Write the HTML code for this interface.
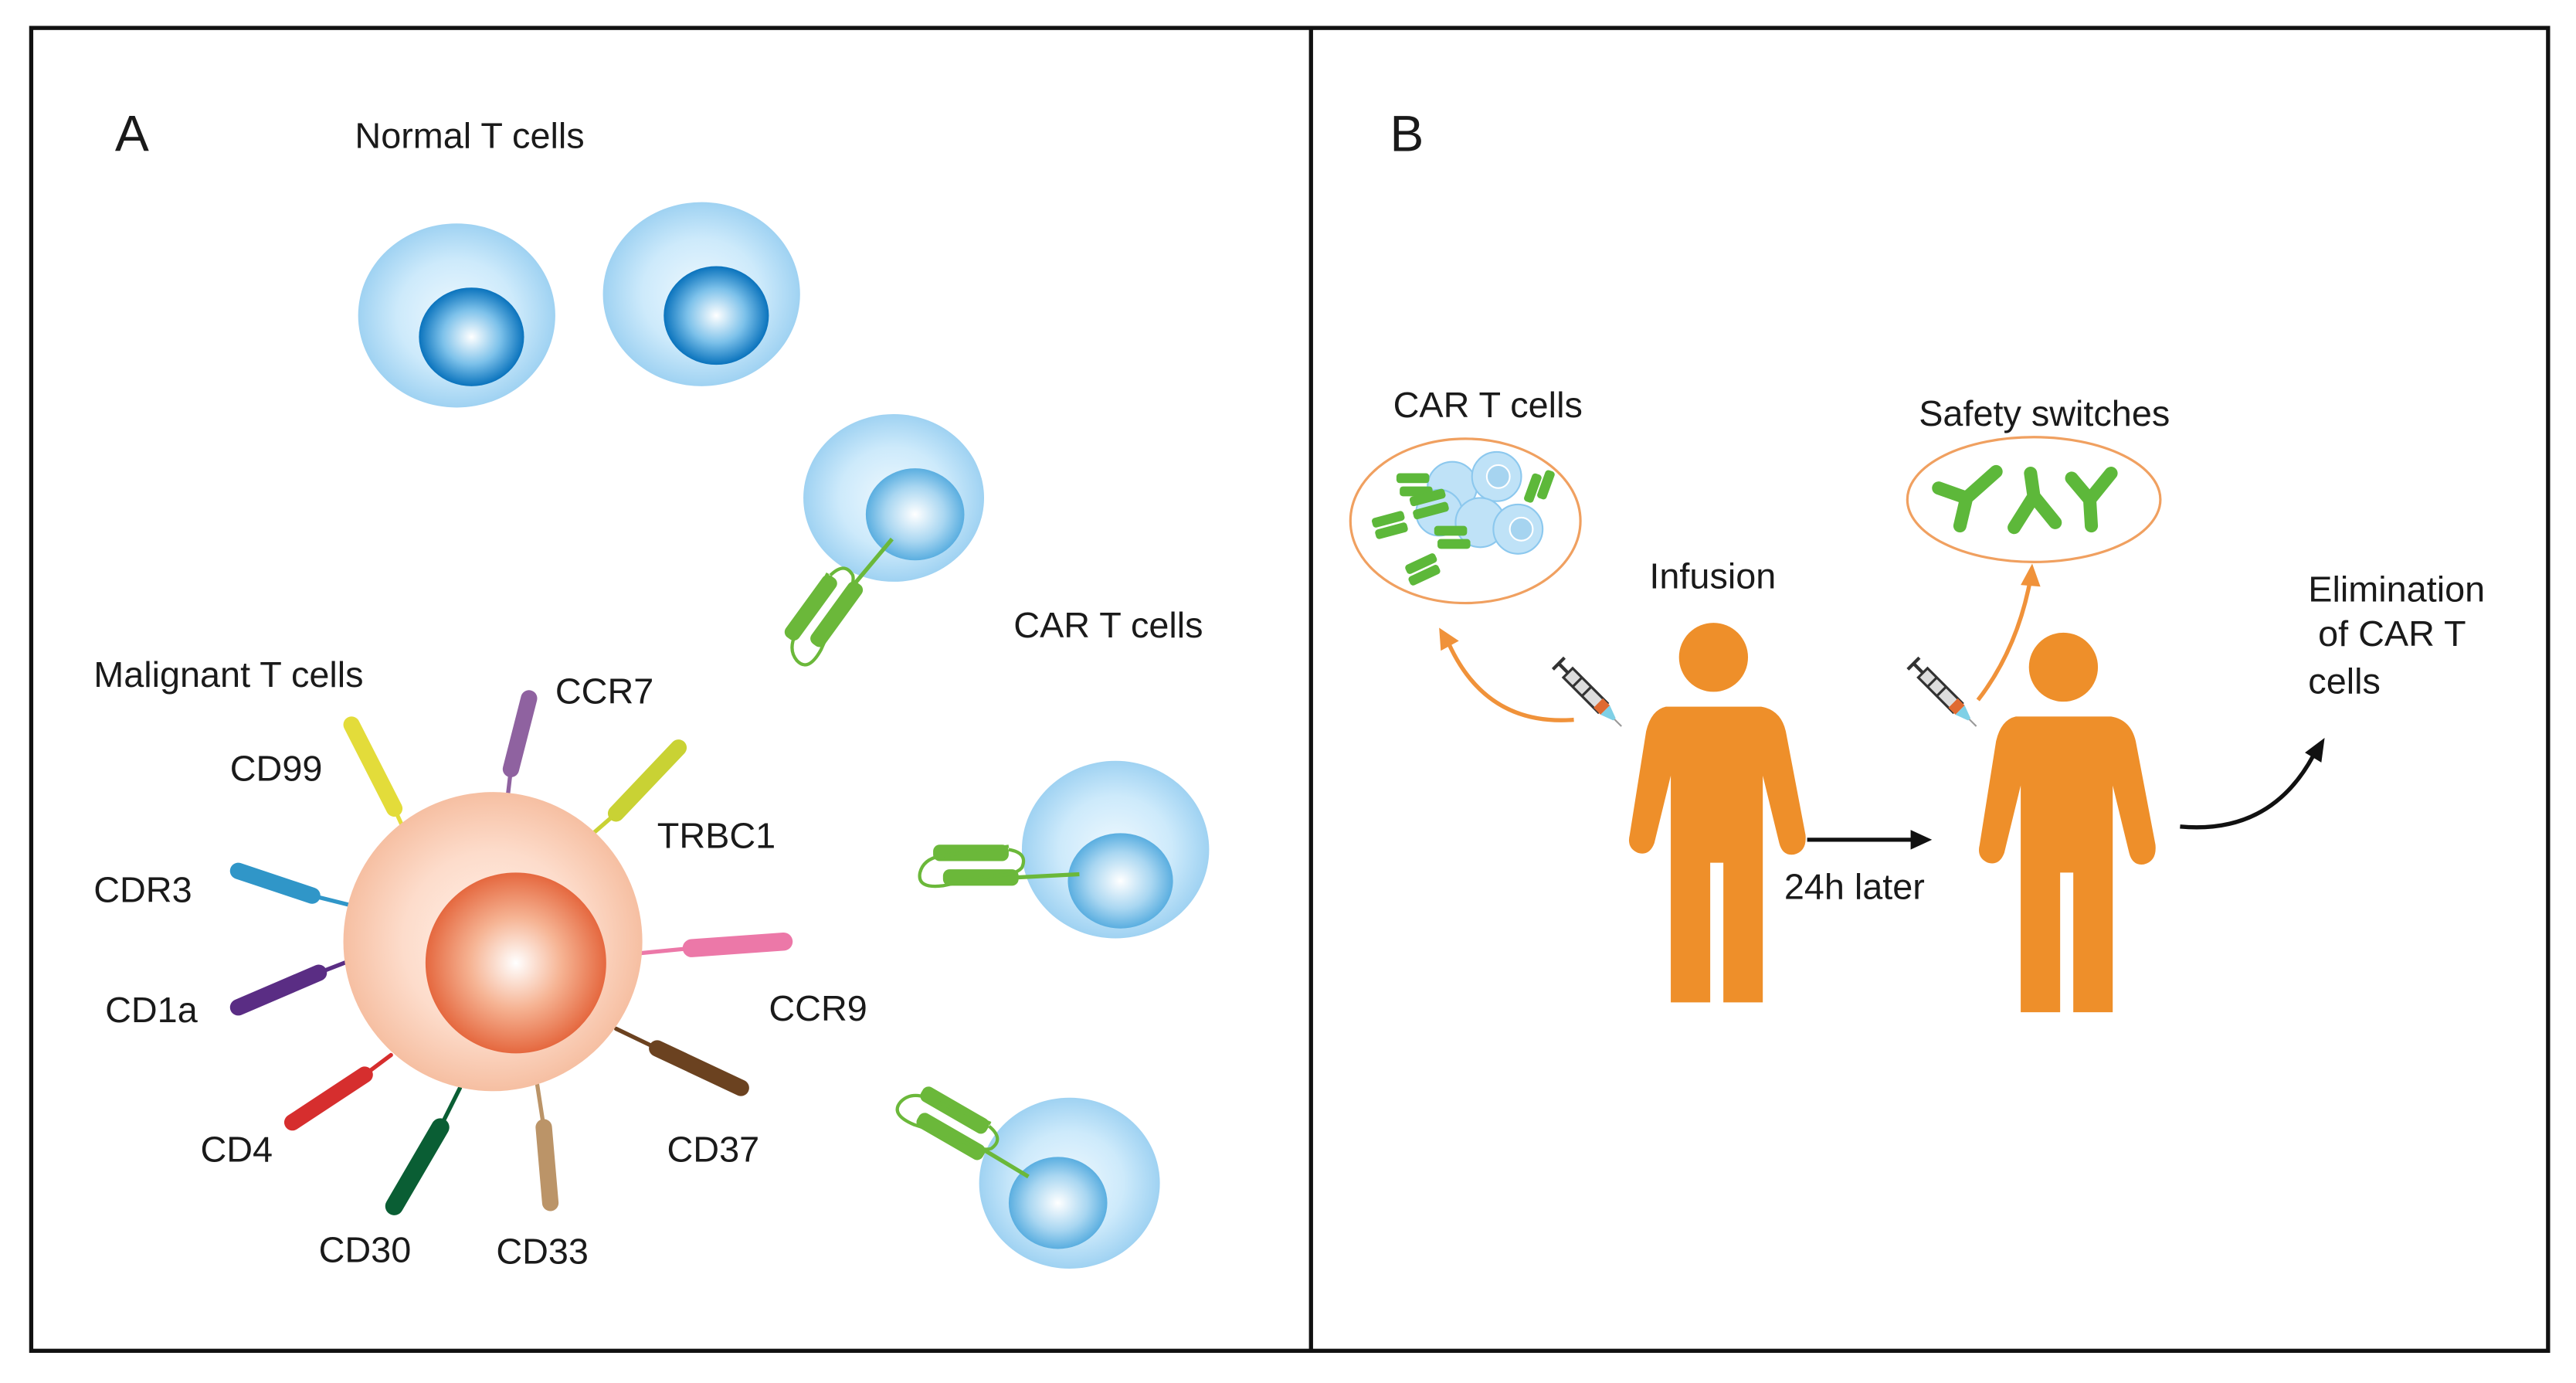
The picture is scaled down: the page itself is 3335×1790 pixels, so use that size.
<!DOCTYPE html>
<html><head><meta charset="utf-8"><style>
html,body{margin:0;padding:0;background:#fff;}
svg{display:block;}
text{font-family:"Liberation Sans",Arial,sans-serif;fill:#1a1a1a;}
</style></head><body>
<svg width="3335" height="1790" viewBox="0 0 1568 841.6" preserveAspectRatio="none" xmlns="http://www.w3.org/2000/svg">
<defs>
<radialGradient id="cell" cx="50%" cy="50%" r="50%"><stop offset="0" stop-color="#eef8fe"/><stop offset="0.6" stop-color="#cdeafb"/><stop offset="1" stop-color="#9fd2f2"/></radialGradient>
<radialGradient id="nuc" cx="50%" cy="50%" r="50%"><stop offset="0" stop-color="#ffffff"/><stop offset="0.55" stop-color="#7cc1ea"/><stop offset="1" stop-color="#0a73bd"/></radialGradient>
<radialGradient id="nuc2" cx="50%" cy="50%" r="50%"><stop offset="0" stop-color="#ffffff"/><stop offset="0.6" stop-color="#a8d6f1"/><stop offset="1" stop-color="#5aaee0"/></radialGradient>
<radialGradient id="mal" cx="50%" cy="50%" r="50%"><stop offset="0" stop-color="#fff2ea"/><stop offset="0.6" stop-color="#fddccb"/><stop offset="1" stop-color="#f6bfa2"/></radialGradient>
<radialGradient id="malN" cx="50%" cy="50%" r="50%"><stop offset="0" stop-color="#ffffff"/><stop offset="0.5" stop-color="#f6b494"/><stop offset="1" stop-color="#e5683f"/></radialGradient>
<g id="car">
<rect x="6" y="-13" width="46" height="10" rx="4" fill="#6bb83a"/>
<rect x="12" y="2" width="46" height="10" rx="4" fill="#6bb83a"/>
<path d="M52,-10 Q64,-8 60,1 Q56,6 40,6 L12,12 Q-4,14 -2,4 Q0,-4 10,-6 L52,-12" fill="none" stroke="#6bb83a" stroke-width="2"/>
</g>
<g id="person">
<circle cx="0" cy="0" r="21" fill="#ee8f2a"/>
<path d="M-29,30 L29,30 Q41,32 44,45 L56,108 Q57,118 49,120 Q42,121 40,113 L30,72 L30,210 L6,210 L6,125 L-2,125 L-2,210 L-26,210 L-26,72 L-36,113 Q-39,121 -46,119 Q-53,116 -51,108 L-41,45 Q-38,32 -29,30 Z" fill="#ee8f2a"/>
</g>
<g id="syr">
<rect x="-4" y="-22" width="8" height="30" fill="#ddd" stroke="#333" stroke-width="1.5"/>
<line x1="-4" y1="-14" x2="4" y2="-14" stroke="#333" stroke-width="1.5"/>
<line x1="-4" y1="-6" x2="4" y2="-6" stroke="#333" stroke-width="1.5"/>
<rect x="-4" y="4" width="8" height="6" fill="#e06a30"/>
<line x1="0" y1="-22" x2="0" y2="-30" stroke="#333" stroke-width="2"/>
<line x1="-5" y1="-30" x2="5" y2="-30" stroke="#333" stroke-width="2"/>
<path d="M-4,10 L4,10 L1,18 L-1,18 Z" fill="#7fd0e6"/>
<line x1="0" y1="18" x2="0" y2="24" stroke="#999" stroke-width="1"/>
</g>
</defs>

<rect x="19" y="17" width="1532" height="805" fill="none" stroke="#111" stroke-width="2.5"/>
<line x1="798" y1="17" x2="798" y2="822" stroke="#111" stroke-width="2.5"/>

<text x="70" y="92" font-size="31">A</text>
<text x="216" y="90" font-size="22">Normal T cells</text>
<ellipse cx="278" cy="192" rx="60" ry="56" fill="url(#cell)"/>
<ellipse cx="287" cy="205" rx="32" ry="30" fill="url(#nuc)"/>
<ellipse cx="427" cy="179" rx="60" ry="56" fill="url(#cell)"/>
<ellipse cx="436" cy="192" rx="32" ry="30" fill="url(#nuc)"/>

<ellipse cx="544" cy="303" rx="55" ry="51" fill="url(#cell)"/>
<ellipse cx="557" cy="313" rx="30" ry="28" fill="url(#nuc2)"/>
<line x1="512" y1="365" x2="543" y2="328" stroke="#6bb83a" stroke-width="2.5"/>
<use href="#car" transform="translate(483,398) rotate(-54)"/>
<text x="617" y="388" font-size="22">CAR T cells</text>

<ellipse cx="679" cy="517" rx="57" ry="54" fill="url(#cell)"/>
<ellipse cx="682" cy="536" rx="32" ry="29" fill="url(#nuc2)"/>
<line x1="618" y1="534" x2="657" y2="532" stroke="#6bb83a" stroke-width="2.5"/>
<use href="#car" transform="translate(562,527)"/>

<ellipse cx="651" cy="720" rx="55" ry="52" fill="url(#cell)"/>
<ellipse cx="644" cy="732" rx="30" ry="28" fill="url(#nuc2)"/>
<line x1="596" y1="698" x2="626" y2="716" stroke="#6bb83a" stroke-width="2.5"/>
<use href="#car" transform="translate(552,668) rotate(30)"/>

<g stroke-linecap="round">
<line x1="240" y1="492" x2="246" y2="505" stroke="#e3dc3a" stroke-width="2.5"/><line x1="214" y1="441" x2="240" y2="492" stroke="#e3dc3a" stroke-width="10"/>
<line x1="311" y1="468" x2="309" y2="485" stroke="#8f62a0" stroke-width="2.5"/><line x1="322" y1="425" x2="311" y2="468" stroke="#8f62a0" stroke-width="10"/>
<line x1="375" y1="495" x2="360" y2="508" stroke="#c9d234" stroke-width="2.5"/><line x1="413" y1="455" x2="375" y2="495" stroke="#c9d234" stroke-width="10"/>
<line x1="190" y1="545" x2="214" y2="551" stroke="#3096c8" stroke-width="2.5"/><line x1="145" y1="530" x2="190" y2="545" stroke="#3096c8" stroke-width="10"/>
<line x1="194" y1="592" x2="212" y2="585" stroke="#5a2d84" stroke-width="2.5"/><line x1="145" y1="613" x2="194" y2="592" stroke="#5a2d84" stroke-width="10"/>
<line x1="222" y1="654" x2="238" y2="642" stroke="#d62e2e" stroke-width="2.5"/><line x1="178" y1="683" x2="222" y2="654" stroke="#d62e2e" stroke-width="10"/>
<line x1="268" y1="686" x2="280" y2="662" stroke="#0a5e34" stroke-width="2.5"/><line x1="240" y1="734" x2="268" y2="686" stroke="#0a5e34" stroke-width="11"/>
<line x1="331" y1="686" x2="327" y2="660" stroke="#bb9468" stroke-width="2.5"/><line x1="335" y1="732" x2="331" y2="686" stroke="#bb9468" stroke-width="10"/>
<line x1="400" y1="638" x2="375" y2="626" stroke="#6b4220" stroke-width="2.5"/><line x1="451" y1="662" x2="400" y2="638" stroke="#6b4220" stroke-width="10"/>
<line x1="421" y1="577" x2="390" y2="580" stroke="#ec78a8" stroke-width="2.5"/><line x1="477" y1="573" x2="421" y2="577" stroke="#ec78a8" stroke-width="11"/>
</g>
<circle cx="300" cy="573" r="91" fill="url(#mal)"/>
<circle cx="314" cy="586" r="55" fill="url(#malN)"/>

<g font-size="22">
<text x="57" y="418">Malignant T cells</text>
<text x="338" y="428">CCR7</text>
<text x="140" y="475">CD99</text>
<text x="400" y="516">TRBC1</text>
<text x="57" y="549">CDR3</text>
<text x="64" y="622">CD1a</text>
<text x="122" y="707">CD4</text>
<text x="194" y="768">CD30</text>
<text x="302" y="769">CD33</text>
<text x="406" y="707">CD37</text>
<text x="468" y="621">CCR9</text>
</g>

<text x="846" y="92" font-size="31">B</text>
<text x="848" y="254" font-size="22">CAR T cells</text>
<ellipse cx="892" cy="317" rx="70" ry="50" fill="none" stroke="#f0a060" stroke-width="1.5"/>
<g>
<circle cx="884" cy="296" r="15" fill="#bfe2f7" stroke="#8cc8ee"/><circle cx="911" cy="290" r="15" fill="#bfe2f7" stroke="#8cc8ee"/>
<circle cx="912" cy="290" r="7" fill="#a6d4f0" stroke="#fff"/>
<circle cx="876" cy="312" r="14" fill="#bfe2f7" stroke="#8cc8ee"/><circle cx="901" cy="318" r="15" fill="#bfe2f7" stroke="#8cc8ee"/>
<circle cx="924" cy="322" r="15" fill="#bfe2f7" stroke="#8cc8ee"/><circle cx="926" cy="322" r="7" fill="#a6d4f0" stroke="#fff"/>
<g fill="#5db83a">
<rect x="850" y="288" width="20" height="6" rx="2"/><rect x="852" y="296" width="20" height="6" rx="2"/>
<rect x="858" y="300" width="22" height="6" rx="2" transform="rotate(-15 868 303)"/><rect x="860" y="308" width="22" height="6" rx="2" transform="rotate(-15 870 311)"/>
<rect x="835" y="313" width="20" height="6" rx="2" transform="rotate(-15 845 316)"/><rect x="837" y="320" width="20" height="6" rx="2" transform="rotate(-15 847 323)"/>
<rect x="873" y="320" width="20" height="6" rx="2"/><rect x="875" y="328" width="20" height="6" rx="2"/>
<rect x="855" y="340" width="20" height="6" rx="2" transform="rotate(-25 865 343)"/><rect x="857" y="347" width="20" height="6" rx="2" transform="rotate(-25 867 350)"/>
<rect x="930" y="288" width="6" height="18" rx="2" transform="rotate(20 933 297)"/><rect x="938" y="286" width="6" height="18" rx="2" transform="rotate(20 941 295)"/>
</g></g>

<text x="1168" y="259" font-size="22">Safety switches</text>
<ellipse cx="1238" cy="304" rx="77" ry="38" fill="none" stroke="#f0a060" stroke-width="1.5"/>
<g stroke="#5db83a" stroke-width="8" fill="none" stroke-linecap="round" stroke-linejoin="round">
<path d="M1180,297 L1197,303 L1215,287 M1197,303 L1193,320"/>
<path d="M1236,288 L1238,302 L1226,321 M1238,302 L1251,318"/>
<path d="M1261,291 L1272,304 L1285,288 M1272,304 L1273,320"/>
</g>

<text x="1004" y="358" font-size="22">Infusion</text>
<use href="#person" transform="translate(1043,400)"/>
<use href="#person" transform="translate(1256,406)"/>

<use href="#syr" transform="translate(970,425) rotate(-45)"/>
<use href="#syr" transform="translate(1186,425) rotate(-45)"/>

<path d="M958,438 Q905,442 882,392" fill="none" stroke="#f0923a" stroke-width="2.5"/>
<path d="M876,382 L877,396 L888,390 Z" fill="#f0923a"/>
<path d="M1204,426 Q1228,395 1236,352" fill="none" stroke="#f0923a" stroke-width="2.5"/>
<path d="M1237,343 L1230,356 L1242,357 Z" fill="#f0923a"/>

<line x1="1100" y1="511" x2="1166" y2="511" stroke="#111" stroke-width="2.5"/>
<path d="M1176,511 L1163,505 L1163,517 Z" fill="#111"/>
<text x="1086" y="547" font-size="22">24h later</text>
<path d="M1327,503 Q1382,508 1408,460" fill="none" stroke="#111" stroke-width="2.5"/>
<path d="M1415,449 L1403,458 L1413,464 Z" fill="#111"/>
<text x="1405" y="366" font-size="22">Elimination</text>
<text x="1411" y="393" font-size="22">of CAR T</text>
<text x="1405" y="422" font-size="22">cells</text>
</svg>
</body></html>
